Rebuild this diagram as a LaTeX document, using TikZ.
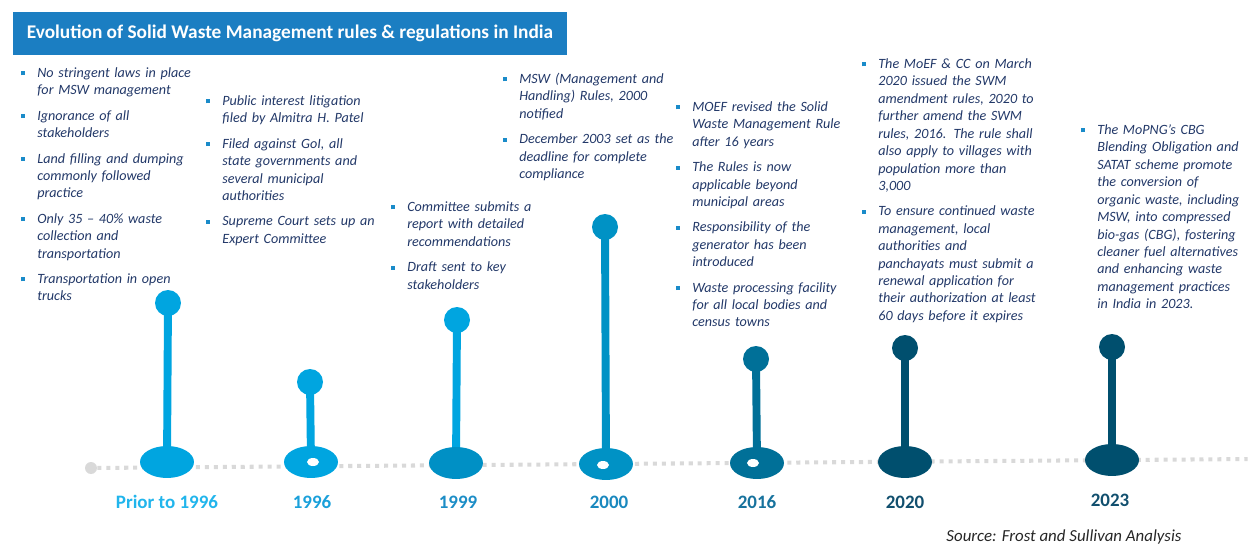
\documentclass[tikz,border=0pt]{standalone}
\usepackage{fontspec}
\setmainfont{Carlito}
\usetikzlibrary{shapes.geometric,positioning,backgrounds}
\definecolor{titlebar}{RGB}{27,126,194}
\definecolor{navy}{RGB}{34,56,104}
\definecolor{bullet}{RGB}{26,139,201}
\definecolor{dotgray}{RGB}{217,217,217}
\definecolor{cyanA}{RGB}{0,165,224}
\definecolor{cyanB}{RGB}{0,144,197}
\definecolor{cyanC}{RGB}{0,146,197}
\definecolor{tealA}{RGB}{0,112,152}
\definecolor{tealB}{RGB}{0,79,110}
\newcommand{\bl}{\leavevmode\llap{\textcolor{bullet}{\rule[0.3ex]{2.3pt}{2.3pt}}\hspace{6.9pt}}}

\begin{document}
\begin{tikzpicture}[
  x=0.02cm,y=-0.02cm,
  titlebox/.style={fill=titlebar,text=white,minimum width=11.08cm,minimum height=0.86cm,font=\fontsize{11}{13}\selectfont\bfseries},
  col/.style={anchor=base west,inner sep=0pt,text width=8cm,align=left,text=navy,font=\fontsize{8.05}{9.92}\selectfont\itshape},
  knob/.style={circle,inner sep=0pt,minimum size=0.52cm},
  pad/.style={ellipse,inner sep=0pt,minimum width=1.08cm,minimum height=0.64cm},
  hole/.style={ellipse,fill=white,inner sep=0pt,minimum width=0.24cm,minimum height=0.16cm},
  stem/.style={line width=4.5pt},
  yearlbl/.style={font=\fontsize{10.8}{12}\selectfont\bfseries},
  track/.style={dotgray,line width=2.3pt,dash pattern=on 2.3pt off 2.8pt},
]
\useasboundingbox (0,0) rectangle (1248,544);

% title
\node[titlebox] (title) at (290,33.5) {Evolution of Solid Waste Management rules \& regulations in India};

% timeline track
\node[circle,fill=dotgray,inner sep=0pt,minimum size=0.24cm] (start) at (91,468) {};
\node[circle,fill=dotgray,inner sep=0pt,minimum size=0.24cm] (end) at (1254,459) {};
\draw[track] (start) -- (end);

% milestones
\node[knob,fill=cyanA] (k1) at (168,303) {};
\node[pad,fill=cyanA] (p1) at (167,462) {};
\node[knob,fill=cyanA] (k2) at (310,382) {};
\node[pad,fill=cyanA] (p2) at (311,462) {};
\node[hole] (h2) at (313,462) {};
\node[knob,fill=cyanA] (k3) at (457,320) {};
\node[pad,fill=cyanB] (p3) at (456,463) {};
\node[knob,fill=cyanC] (k4) at (605,227) {};
\node[pad,fill=cyanC] (p4) at (606,464) {};
\node[hole] (h4) at (603,465) {};
\node[knob,fill=tealA] (k5) at (756,359) {};
\node[pad,fill=tealA] (p5) at (757,463) {};
\node[hole] (h5) at (753,463) {};
\node[knob,fill=tealB] (k6) at (905,348) {};
\node[pad,fill=tealB] (p6) at (905,462) {};
\node[knob,fill=tealB] (k7) at (1112,347) {};
\node[pad,fill=tealB] (p7) at (1112,460) {};

\begin{scope}[on background layer]
\draw[stem,cyanA] (k1.center) -- (p1.center);
\draw[stem,cyanA] (k2.center) -- (p2.center);
\draw[stem,cyanA] (k3.center) -- (p3.center);
\draw[stem,cyanC] (k4.center) -- (p4.center);
\draw[stem,tealA] (k5.center) -- (p5.center);
\draw[stem,tealB] (k6.center) -- (p6.center);
\draw[stem,tealB] (k7.center) -- (p7.center);
\end{scope}

% years
\node[yearlbl,text={rgb,255:red,33;green,181;blue,236}] (y1) at (167,502) {Prior to 1996};
\node[yearlbl,text={rgb,255:red,26;green,160;blue,218}] (y2) at (312,502) {1996};
\node[yearlbl,text={rgb,255:red,28;green,141;blue,198}] (y3) at (458,502) {1999};
\node[yearlbl,text={rgb,255:red,25;green,136;blue,190}] (y4) at (609,502) {2000};
\node[yearlbl,text={rgb,255:red,23;green,114;blue,157}] (y5) at (757,502) {2016};
\node[yearlbl,text={rgb,255:red,17;green,79;blue,110}] (y6) at (905,502) {2020};
\node[yearlbl,text={rgb,255:red,17;green,79;blue,110}] (y7) at (1110,500) {2023};

% notes
\node[col] (n1) at (37,77.5) {\bl No stringent laws in place\\ for MSW management\\[4.5pt]
\bl Ignorance of all\\ stakeholders\\[4.5pt]
\bl Land filling and dumping\\ commonly followed\\ practice\\[4.5pt]
\bl Only 35 -- 40\% waste\\ collection and\\ transportation\\[4.5pt]
\bl Transportation in open\\ trucks};

\node[col] (n2) at (222,105.5) {\bl Public interest litigation\\ filed by Almitra H. Patel\\[4.5pt]
\bl Filed against GoI, all\\ state governments and\\ several municipal\\ authorities\\[4.5pt]
\bl Supreme Court sets up an\\ Expert Committee};

\node[col] (n3) at (407,211.5) {\bl Committee submits a\\ report with detailed\\ recommendations\\[4.5pt]
\bl Draft sent to key\\ stakeholders};

\node[col] (n4) at (519,83.5) {\bl MSW (Management and\\ Handling) Rules, 2000\\ notified\\[4.5pt]
\bl December 2003 set as the\\ deadline for complete\\ compliance};

\node[col] (n5) at (692,111.5) {\bl MOEF revised the Solid\\ Waste Management Rule\\ after 16 years\\[4.5pt]
\bl The Rules is now\\ applicable beyond\\ municipal areas\\[4.5pt]
\bl Responsibility of the\\ generator has been\\ introduced\\[4.5pt]
\bl Waste processing facility\\ for all local bodies and\\ census towns};

\node[col] (n6) at (878,68.5) {\bl The MoEF \& CC on March\\ 2020 issued the SWM\\ amendment rules, 2020 to\\ further amend the SWM\\ rules, 2016. The rule shall\\ also apply to villages with\\ population more than\\ 3,000\\[4.5pt]
\bl To ensure continued waste\\ management, local\\ authorities and\\ panchayats must submit a\\ renewal application for\\ their authorization at least\\ 60 days before it expires};

\node[col] (n7) at (1097,134.5) {\bl The MoPNG's CBG\\ Blending Obligation and\\ SATAT scheme promote\\ the conversion of\\ organic waste, including\\ MSW, into compressed\\ bio-gas (CBG), fostering\\ cleaner fuel alternatives\\ and enhancing waste\\ management practices\\ in India in 2023.};

% source
\node[font=\fontsize{9.6}{11}\selectfont\itshape,text={rgb,255:red,38;green,38;blue,38}] (src) at (1064,537) {Source: Frost and Sullivan Analysis};
\end{tikzpicture}
\end{document}
